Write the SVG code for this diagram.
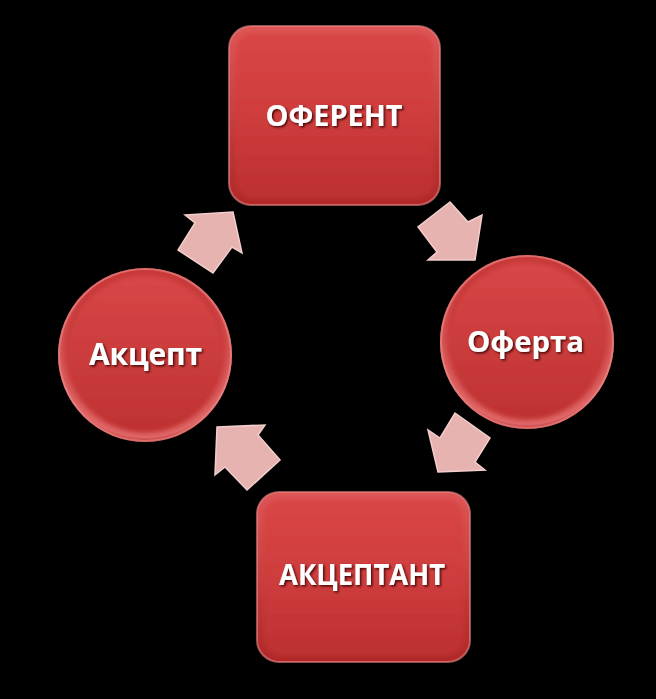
<svg xmlns="http://www.w3.org/2000/svg" width="656" height="699" viewBox="0 0 656 699">
  <defs>
    <linearGradient id="rim" x1="0" y1="0" x2="0" y2="1">
      <stop offset="0" stop-color="#de5656"/>
      <stop offset="1" stop-color="#b02828"/>
    </linearGradient>
    <linearGradient id="face" x1="0" y1="0" x2="0" y2="1">
      <stop offset="0" stop-color="#d94646"/>
      <stop offset="0.5" stop-color="#cf3d3d"/>
      <stop offset="1" stop-color="#bd3030"/>
    </linearGradient>
    <radialGradient id="crim" cx="0.5" cy="0.45" r="0.55">
      <stop offset="0.8" stop-color="#c83a3a"/>
      <stop offset="0.95" stop-color="#e06868"/>
      <stop offset="1" stop-color="#b83030"/>
    </radialGradient>
    <linearGradient id="cface" x1="0" y1="0" x2="0" y2="1">
      <stop offset="0" stop-color="#d84747"/>
      <stop offset="1" stop-color="#bf3232"/>
    </linearGradient>
    <filter id="soft" x="-5%" y="-5%" width="110%" height="110%">
      <feGaussianBlur stdDeviation="2"/>
    </filter>
    <filter id="ts" x="-10%" y="-30%" width="120%" height="160%">
      <feDropShadow dx="1.5" dy="1.5" stdDeviation="1" flood-color="#3a0000" flood-opacity="0.9"/>
    </filter>
    <filter id="ash" x="-10%" y="-10%" width="120%" height="120%">
      <feDropShadow dx="0" dy="0" stdDeviation="0.8" flood-color="#ffffff" flood-opacity="0.4"/>
    </filter>
  </defs>
  <style>
    .lbl { font-family: "Open Sans", "Liberation Sans", sans-serif; font-weight: bold; fill: #ffffff; text-anchor: middle; filter: url(#ts); }
    .arrow { fill: #e6b3b1; stroke: #f2cfcd; stroke-width: 1.5; stroke-linejoin: miter; }
    .rimhl { fill: none; stroke: #ee8a8a; stroke-width: 2; opacity: 0.6; }
  </style>
  <rect x="0" y="0" width="656" height="699" fill="#000000"/>

  <g id="connectors">
    <polygon class="arrow" points="450,202 468,222 482,215 475,260 428,260 437,252 418,227"/>
    <polygon class="arrow" points="455,413 490,438 475,462 485,470 438,472 428,430 440,438"/>
    <polygon class="arrow" points="217,427 265,425 258,435 280,460 247,490 225,467 215,475"/>
    <polygon class="arrow" points="185,215 233,212 242,253 232,247 213,273 178,250 195,223"/>
  </g>

  <g id="oferent">
    <rect x="229" y="26" width="211" height="179" rx="22" fill="url(#rim)"/>
    <rect x="229" y="26" width="211" height="179" rx="22" class="rimhl"/>
    <rect x="236" y="33" width="197" height="165" rx="17" fill="url(#face)" filter="url(#soft)"/>
    <text class="lbl" x="334" y="126" font-size="29" textLength="137" lengthAdjust="spacingAndGlyphs">ОФЕРЕНТ</text>
  </g>

  <g id="oferta">
    <circle cx="527" cy="342" r="87" fill="url(#crim)"/>
    <circle cx="527" cy="342" r="86" class="rimhl"/>
    <circle cx="527" cy="341" r="78" fill="url(#cface)" filter="url(#soft)"/>
    <text class="lbl" x="525.5" y="352" font-size="29" textLength="117" lengthAdjust="spacingAndGlyphs">Оферта</text>
  </g>

  <g id="akceptant">
    <rect x="257" y="492" width="213" height="170" rx="22" fill="url(#rim)"/>
    <rect x="257" y="492" width="213" height="170" rx="22" class="rimhl"/>
    <rect x="264" y="499" width="199" height="156" rx="17" fill="url(#face)" filter="url(#soft)"/>
    <text class="lbl" x="362" y="585" font-size="28" textLength="166" lengthAdjust="spacingAndGlyphs">АКЦЕПТАНТ</text>
  </g>

  <g id="akcept">
    <circle cx="145" cy="355" r="87" fill="url(#crim)"/>
    <circle cx="145" cy="355" r="86" class="rimhl"/>
    <circle cx="145" cy="354" r="78" fill="url(#cface)" filter="url(#soft)"/>
    <text class="lbl" x="145.5" y="365" font-size="30" textLength="113" lengthAdjust="spacing">Акцепт</text>
  </g>
</svg>
